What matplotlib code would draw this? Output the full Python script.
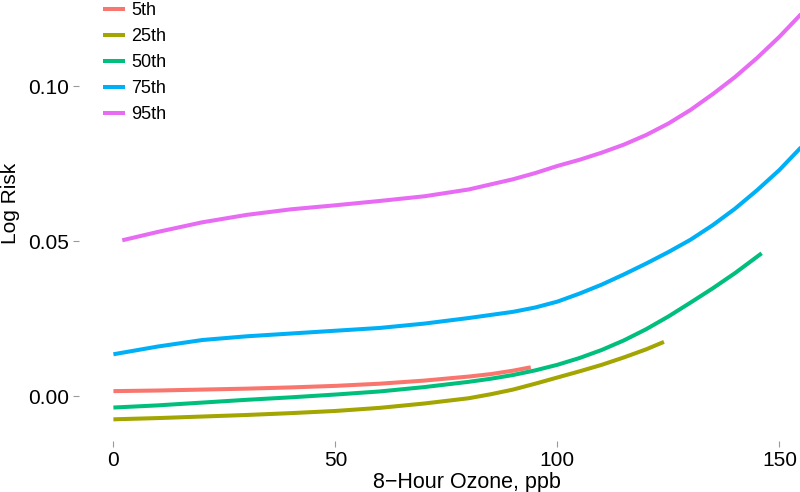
import matplotlib
matplotlib.use("Agg")
import matplotlib.pyplot as plt

plt.rcParams["font.family"] = ["Liberation Sans", "DejaVu Sans"]

labels = ["5th", "25th", "50th", "75th", "95th"]
colors = ["#F8766D", "#A3A500", "#00BF7D", "#00B0F6", "#E76BF3"]

# ozone (ppb) and log risk for each percentile
x_5th = [0, 10, 20, 30, 40, 50, 60, 70, 80, 85, 90, 94]
y_5th = [0.0016, 0.0018, 0.0021, 0.0024, 0.0028, 0.0033, 0.0040, 0.0050, 0.0063, 0.0071, 0.0082, 0.0093]

x_25th = [0, 10, 20, 30, 40, 50, 60, 70, 80, 85, 90, 95, 100, 105, 110, 115, 120, 124]
y_25th = [-0.0075, -0.0071, -0.0066, -0.0061, -0.0055, -0.0048, -0.0038, -0.0024, -0.0007, 0.0006,
          0.0021, 0.0040, 0.0060, 0.0080, 0.0101, 0.0125, 0.0151, 0.0175]

x_50th = [0, 10, 20, 30, 40, 50, 60, 70, 80, 85, 90, 95, 100, 105, 110, 115, 120, 125, 130, 135, 140, 146]
y_50th = [-0.0037, -0.0030, -0.0021, -0.0012, -0.0004, 0.0005, 0.0015, 0.0029, 0.0046, 0.0056, 0.0068,
          0.0083, 0.0101, 0.0123, 0.0149, 0.0180, 0.0216, 0.0257, 0.0302, 0.0348, 0.0397, 0.0461]

x_75th = [0, 10, 20, 30, 40, 50, 60, 70, 80, 90, 95, 100, 105, 110, 115, 120, 125, 130, 135, 140, 145,
          150, 155]
y_75th = [0.0135, 0.0160, 0.0181, 0.0193, 0.0202, 0.0211, 0.0220, 0.0234, 0.0252, 0.0272, 0.0286, 0.0305,
          0.0331, 0.0360, 0.0393, 0.0428, 0.0465, 0.0505, 0.0552, 0.0605, 0.0665, 0.0730, 0.0805]

x_95th = [2, 10, 20, 30, 40, 50, 60, 70, 80, 90, 95, 100, 105, 110, 115, 120, 125, 130, 135, 140, 145,
          150, 155]
y_95th = [0.0503, 0.0530, 0.0561, 0.0585, 0.0603, 0.0616, 0.0630, 0.0645, 0.0667, 0.0700, 0.0720, 0.0743,
          0.0763, 0.0786, 0.0812, 0.0843, 0.0880, 0.0924, 0.0975, 0.1030, 0.1092, 0.1160, 0.1235]

series_x = [x_5th, x_25th, x_50th, x_75th, x_95th]
series_y = [y_5th, y_25th, y_50th, y_75th, y_95th]

W, H = 800, 492
fig = plt.figure(figsize=(8, 4.92), dpi=100)
# panel runs past the right and top edges, like the cropped original
ax = fig.add_axes([79 / W, (H - 441) / H, (836 - 79) / W, (441 + 36) / H])

for xs, ys, c, lab in zip(series_x, series_y, colors, labels):
    ax.plot(xs, ys, color=c, lw=2.9, label=lab, solid_capstyle="butt", solid_joinstyle="round")

ax.set_xlim(-7.75, 162.75)
ax.set_ylim(-0.0145, 0.1395)
ax.set_xticks([0, 50, 100, 150])
ax.set_yticks([0.00, 0.05, 0.10])
ax.set_yticklabels(["0.00", "0.05", "0.10"])

for s in ax.spines.values():
    s.set_visible(False)
ax.tick_params(direction="out", length=4.3, width=0.8, color="#9a9a9a",
               labelsize=15, labelcolor="black", pad=3)

ax.set_xlabel("8\u2212Hour Ozone, ppb", fontsize=15.5)
ax.xaxis.set_label_coords(467 / W, (H - 472) / H, transform=fig.transFigure)
ax.set_ylabel("Log Risk", fontsize=15)
ax.yaxis.set_label_coords(20 / W, (H - 203) / H, transform=fig.transFigure)

fig.legend(loc="upper left", bbox_to_anchor=(103 / W, 1 - 2 / H), frameon=False,
           fontsize=13, handlelength=1.2, handletextpad=0.35, labelspacing=0.5,
           borderpad=0, borderaxespad=0)

fig.savefig("out.png", dpi=100)
